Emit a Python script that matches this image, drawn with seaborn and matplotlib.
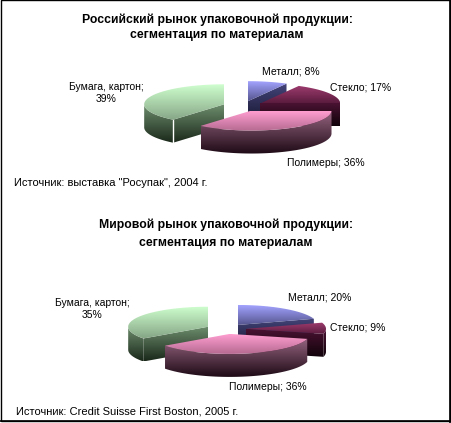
"""Two exploded 3D-style pie charts: packaging market split by material
(Russia 2004 vs world 2005). Writes out.png."""

import matplotlib

matplotlib.use("Agg")
import matplotlib.pyplot as plt
import numpy as np
import seaborn as sns
from matplotlib.patches import Polygon, Rectangle

CATEGORIES = ["Металл", "Стекло", "Полимеры", "Бумага, картон"]
RUSSIA_SHARES = [8, 17, 36, 39]
WORLD_SHARES = [20, 9, 36, 35]

RUSSIA_TITLE = ["Российский рынок упаковочной продукции:", "сегментация по материалам"]
WORLD_TITLE = ["Мировой рынок упаковочной продукции:", "сегментация по материалам"]
RUSSIA_SOURCE = 'Источник: выставка "Росупак", 2004 г.'
WORLD_SOURCE = "Источник: Credit Suisse First Boston, 2005 г."

# per slice: top face (light, dark), side faces (light, dark)
SLICE_COLORS = [
    ("#A3A3FF", "#55558F", "#44447A", "#15152E"),   # metal
    ("#A03C70", "#5A1C3E", "#4A1232", "#10030A"),   # glass
    ("#FF9ED0", "#B66A92", "#966580", "#1E0A16"),   # polymers
    ("#CFFFCF", "#86A686", "#6E8E6E", "#1A281A"),   # paper
]

W, H = 451, 423
RX, RY, DEPTH, EXPLODE = 80, 20, 23, 20

# layout in pixels (y grows downward)
CHARTS = [
    dict(shares=RUSSIA_SHARES, title=RUSSIA_TITLE, source=RUSSIA_SOURCE,
         center=(243, 106), title_y=(20, 35), title_x=217, source_xy=(14, 183),
         labels=[(291, 72), (361, 88), (326, 163), (106, 93)], seam=True),
    dict(shares=WORLD_SHARES, title=WORLD_TITLE, source=WORLD_SOURCE,
         center=(226, 329), title_y=(225, 243), title_x=226, source_xy=(16, 411),
         labels=[(320, 298), (358, 328), (268, 387), (92, 309)], seam=False),
]


def rim(cx, cy, deg):
    t = np.radians(deg)
    return np.column_stack([cx + RX * np.sin(t), cy - RY * np.cos(t)])


def grad_fill(ax, pts, c0, c1, z):
    poly = Polygon(pts, closed=True, facecolor="none", edgecolor="none")
    ax.add_patch(poly)
    cmap = sns.blend_palette([c0, c1], as_cmap=True)
    g = np.linspace(0, 1, 256).reshape(-1, 1)
    xs, ys = pts[:, 0], pts[:, 1]
    im = ax.imshow(g, cmap=cmap, aspect="auto", interpolation="bilinear",
                   extent=(xs.min(), xs.max(), ys.max(), ys.min()), zorder=z)
    im.set_clip_path(poly)


def draw_pie(ax, shares, center, seam):
    total = float(sum(shares))
    edges = np.concatenate([[0], np.cumsum(shares)]) / total * 360
    slices = []
    for i in range(len(shares)):
        a0, a1 = edges[i], edges[i + 1]
        mid = np.radians((a0 + a1) / 2)
        cx = center[0] + EXPLODE * np.sin(mid)
        cy = center[1] - EXPLODE * np.cos(mid) * RY / RX
        slices.append((-np.cos(mid), i, a0, a1, cx, cy))
    slices.sort()

    z = 2
    for _, i, a0, a1, cx, cy in slices:
        ct, cb, st, sb = SLICE_COLORS[i]
        down = np.array([0, DEPTH])
        c = np.array([cx, cy])
        # cut faces turned toward the viewer
        for a, vis in ((a0, np.sin(np.radians(a0)) < -1e-9),
                       (a1, np.sin(np.radians(a1)) > 1e-9)):
            if vis:
                r = rim(cx, cy, a)[0]
                quad = np.array([c, r, r + down, c + down])
                grad_fill(ax, quad, st, sb, z)
                z += 1
        # front part of the outer wall
        lo, hi = max(a0, 90), min(a1, 270)
        if hi > lo:
            arc = rim(cx, cy, np.linspace(lo, hi, 80))
            wall = np.vstack([arc, arc[::-1] + down])
            grad_fill(ax, wall, st, sb, z)
            z += 1
            if seam and np.sin(np.radians(a0)) < 0 and lo == a0:
                r = rim(cx, cy, a0)[0]
                ax.plot([r[0], r[0]], [r[1], r[1] + DEPTH], color="white",
                        lw=1.0, zorder=z)
                z += 1
        top = np.vstack([c, rim(cx, cy, np.linspace(a0, a1, 120))])
        grad_fill(ax, top, ct, cb, z)
        z += 1
    return z


sns.set_theme(style="white")
plt.rcParams["font.family"] = ["Liberation Sans", "DejaVu Sans"]

fig = plt.figure(figsize=(W / 100, H / 100), dpi=100)
ax = fig.add_axes([0, 0, 1, 1])
ax.axis("off")

for chart in CHARTS:
    ztop = draw_pie(ax, chart["shares"], chart["center"], chart["seam"])
    for line, y in zip(chart["title"], chart["title_y"]):
        ax.text(chart["title_x"], y, line, ha="center", va="center",
                fontsize=8.8, fontweight="bold", color="black")
    for name, share, (lx, ly) in zip(CATEGORIES, chart["shares"], chart["labels"]):
        if "," in name:
            label = f"{name};\n{share}%"
        else:
            label = f"{name}; {share}%"
        ax.text(lx, ly, label, ha="center", va="center", fontsize=7.5,
                linespacing=1.35, color="black", zorder=ztop + 1)
    sx, sy = chart["source_xy"]
    ax.text(sx, sy, chart["source"], ha="left", va="center", fontsize=8.0,
            color="black")

# frame with a slightly heavier right/bottom edge
ax.add_patch(Rectangle((0.5, 0.5), W - 2, H - 2, fill=False, ec="black",
                       lw=1.0, zorder=50))
ax.plot([W - 1.5, W - 1.5], [0, H], color="black", lw=1.2, zorder=50)
ax.plot([0, W], [H - 1.5, H - 1.5], color="black", lw=1.2, zorder=50)

ax.set_xlim(0, W)
ax.set_ylim(H, 0)
fig.savefig("out.png", dpi=100)
